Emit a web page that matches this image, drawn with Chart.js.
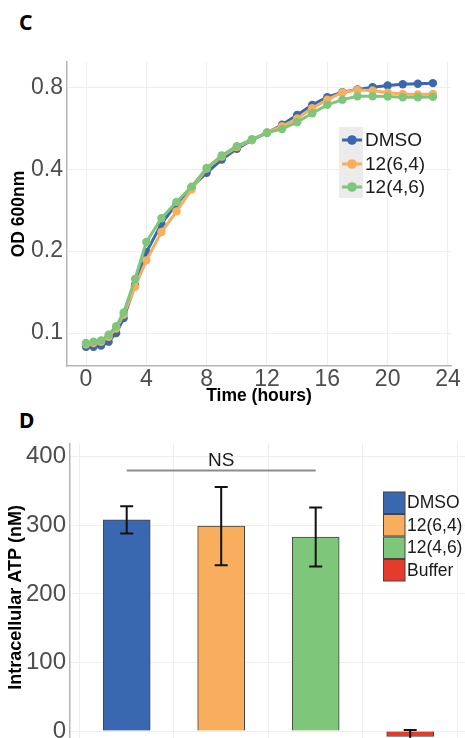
<!DOCTYPE html>
<html>
<head>
<meta charset="utf-8">
<script src="https://cdn.jsdelivr.net/npm/chart.js@4.4.1/dist/chart.umd.min.js"></script>
<style>
  html, body { margin: 0; padding: 0; background: #fff; width: 465px; height: 738px; overflow: hidden; }
  .panel { position: absolute; font-family: "Noto Sans", "Liberation Sans", sans-serif; font-weight: bold; font-size: 21px; color: #000; }
  #wrapC { position: absolute; left: 0; top: 2px; width: 465px; height: 410px; }
  #wrapD { position: absolute; left: 0; top: 400px; width: 465px; height: 370px; }
</style>
</head>
<body>
<div class="panel" style="left:19px; top:8px;">C</div>
<div class="panel" style="left:19px; top:406px;">D</div>
<div id="wrapC"><canvas id="growth" width="465" height="410"></canvas></div>
<div id="wrapD"><canvas id="atp" width="465" height="370"></canvas></div>

<script>
// ---- data: panel C (growth curves, OD 600nm) ----
const hours = [0, 0.5, 1, 1.5, 2, 2.5, 3.25, 4, 5, 6, 7, 8, 9, 10, 11, 12, 13, 14, 15, 16, 17, 18, 19, 20, 21, 22, 23];
const odDMSO = [0.089, 0.089, 0.090, 0.093, 0.100, 0.1135, 0.150, 0.198, 0.252, 0.298, 0.343, 0.388, 0.434, 0.475, 0.512, 0.544, 0.582, 0.633, 0.689, 0.735, 0.767, 0.785, 0.800, 0.812, 0.820, 0.824, 0.828];
const od64 = [0.091, 0.092, 0.093, 0.097, 0.104, 0.117, 0.148, 0.185, 0.235, 0.280, 0.337, 0.402, 0.445, 0.482, 0.512, 0.546, 0.575, 0.614, 0.670, 0.720, 0.765, 0.782, 0.778, 0.763, 0.755, 0.752, 0.755];
const od46 = [0.092, 0.093, 0.094, 0.0986, 0.106, 0.119, 0.158, 0.216, 0.264, 0.303, 0.345, 0.404, 0.449, 0.486, 0.515, 0.544, 0.562, 0.595, 0.642, 0.689, 0.720, 0.741, 0.741, 0.740, 0.735, 0.735, 0.737];
const hourTicks = [0, 4, 8, 12, 16, 20, 24];
const odTicks = [0.1, 0.2, 0.4, 0.8];

// ---- data: panel D (intracellular ATP) ----
const groups = ["DMSO", "12(6,4)", "12(4,6)", "Buffer"];
const atpMean = [308, 299, 283, -8];
const atpErr = [20, 57, 43, 9.5];
const atpTicks = [0, 100, 200, 300, 400];

const colors = ["#3a68b0", "#f8ae5c", "#7dc67a", "#e53b2c"];
const tickFont = { family: "Liberation Sans, Arial, sans-serif", size: 23 };
const titleFont = { family: "Liberation Sans, Arial, sans-serif", size: 17.5, weight: "bold" };
const gridColor = "#eeeeee";
const axisColor = "#b5b5b5";

// legend inside panel C
const legendC = {
  id: "legendC",
  afterDraw(chart) {
    const ctx = chart.ctx;
    ctx.save();
    ctx.fillStyle = "#ececec";
    ctx.fillRect(339, 125, 24, 71);
    const rows = [138, 162, 185];
    chart.data.datasets.forEach((ds, i) => {
      const y = rows[i];
      ctx.strokeStyle = ds.borderColor;
      ctx.lineWidth = 3;
      ctx.beginPath(); ctx.moveTo(342, y); ctx.lineTo(362, y); ctx.stroke();
      ctx.fillStyle = ds.borderColor;
      ctx.beginPath(); ctx.arc(352, y, 4.8, 0, Math.PI * 2); ctx.fill();
      ctx.fillStyle = "#1a1a1a";
      ctx.font = "19px Liberation Sans, Arial, sans-serif";
      ctx.textBaseline = "middle";
      ctx.fillText(ds.label, 365, y + 1);
    });
    ctx.restore();
  }
};

new Chart(document.getElementById("growth"), {
  type: "line",
  data: {
    datasets: [
      { label: groups[0], data: hours.map((h, i) => ({ x: h, y: odDMSO[i] })), borderColor: colors[0], backgroundColor: colors[0], order: 3 },
      { label: groups[1], data: hours.map((h, i) => ({ x: h, y: od64[i] })), borderColor: colors[1], backgroundColor: colors[1], order: 2 },
      { label: groups[2], data: hours.map((h, i) => ({ x: h, y: od46[i] })), borderColor: colors[2], backgroundColor: colors[2], order: 1 },
    ],
  },
  options: {
    responsive: false,
    animation: false,
    layout: { padding: { top: 60, right: 14, left: 0, bottom: 0 } },
    elements: {
      line: { borderWidth: 3, tension: 0 },
      point: { radius: 4.2, borderWidth: 0 },
    },
    plugins: { legend: { display: false }, tooltip: { enabled: false } },
    scales: {
      x: {
        type: "linear",
        min: -1.26,
        max: 24.2,
        afterBuildTicks: (s) => { s.ticks = hourTicks.map((v) => ({ value: v })); },
        afterFit: (s) => { s.height = 46; },
        grid: { color: gridColor, drawTicks: false },
        border: { color: axisColor, width: 1.5 },
        ticks: { font: tickFont, color: "#4d4d4d", padding: 0, maxRotation: 0 },
        title: { display: true, text: "Time (hours)", font: titleFont, color: "#000", padding: { top: 0, bottom: 5.5 } },
      },
      y: {
        type: "logarithmic",
        min: 0.0757,
        max: 0.99,
        afterBuildTicks: (s) => { s.ticks = odTicks.map((v) => ({ value: v })); },
        afterFit: (s) => { s.width = 67; },
        grid: { color: gridColor, drawTicks: false },
        border: { color: axisColor, width: 1.5 },
        ticks: { font: tickFont, color: "#4d4d4d", padding: 4, callback: (v) => String(v) },
        title: { display: true, text: "OD 600nm", font: titleFont, color: "#000", padding: { top: 8.5, bottom: 0 } },
      },
    },
  },
  plugins: [legendC],
});

// error bars, NS bracket and legend for panel D
const atpExtras = {
  id: "atpExtras",
  afterDatasetsDraw(chart) {
    const ctx = chart.ctx;
    const xs = chart.scales.x, ys = chart.scales.y;
    ctx.save();
    ctx.strokeStyle = "#111";
    ctx.lineWidth = 2;
    atpMean.forEach((m, i) => {
      const x = xs.getPixelForValue(i + 1);
      const top = ys.getPixelForValue(m + atpErr[i]);
      const bot = ys.getPixelForValue(m - atpErr[i]);
      ctx.beginPath();
      ctx.moveTo(x, top); ctx.lineTo(x, bot);
      ctx.moveTo(x - 6.5, top); ctx.lineTo(x + 6.5, top);
      ctx.moveTo(x - 6.5, bot); ctx.lineTo(x + 6.5, bot);
      ctx.stroke();
    });
    // NS bracket between DMSO and 12(4,6)
    const yLine = ys.getPixelForValue(380);
    ctx.strokeStyle = "#8c8c8c";
    ctx.beginPath();
    ctx.moveTo(xs.getPixelForValue(1), yLine);
    ctx.lineTo(xs.getPixelForValue(3), yLine);
    ctx.stroke();
    ctx.fillStyle = "#1a1a1a";
    ctx.font = "19px Liberation Sans, Arial, sans-serif";
    ctx.textAlign = "center";
    ctx.textBaseline = "middle";
    ctx.fillText("NS", xs.getPixelForValue(2), ys.getPixelForValue(394));
    // legend
    ctx.textAlign = "left";
    ctx.font = "17.5px Liberation Sans, Arial, sans-serif";
    groups.forEach((g, i) => {
      const y = 92 + i * 22.5;
      ctx.fillStyle = colors[i];
      ctx.fillRect(383.5, y, 21.5, 21.5);
      ctx.strokeStyle = "#444";
      ctx.lineWidth = 1;
      ctx.strokeRect(383.5, y, 21.5, 21.5);
      ctx.fillStyle = "#1a1a1a";
      ctx.fillText(g, 407, y + 11.5);
    });
    ctx.restore();
  }
};

new Chart(document.getElementById("atp"), {
  type: "bar",
  data: {
    datasets: [{
      label: "ATP",
      data: atpMean.map((m, i) => ({ x: i + 1, y: m })),
      backgroundColor: colors,
      borderColor: "#444",
      borderWidth: 1,
      barThickness: 47,
    }],
  },
  options: {
    responsive: false,
    animation: false,
    layout: { padding: { top: 43.3, right: 0, left: 0, bottom: 0 } },
    plugins: { legend: { display: false }, tooltip: { enabled: false } },
    scales: {
      x: {
        type: "linear",
        min: 0.4,
        max: 4.58,
        offset: false,
        afterBuildTicks: (s) => { s.ticks = groups.map((g, i) => ({ value: i + 1 })); },
        afterFit: (s) => { s.height = 11.3; },
        grid: { color: gridColor, drawTicks: false },
        border: { color: axisColor, width: 1.5 },
        ticks: { display: false },
      },
      y: {
        min: -30,
        max: 419.7,
        afterBuildTicks: (s) => { s.ticks = atpTicks.map((v) => ({ value: v })); },
        afterFit: (s) => { s.width = 70; },
        grid: { color: gridColor, drawTicks: false },
        border: { color: axisColor, width: 1.5 },
        ticks: { font: { family: "Liberation Sans, Arial, sans-serif", size: 24 }, color: "#4d4d4d", padding: 4 },
        title: { display: true, text: "Intracellular ATP (nM)", font: { family: "Liberation Sans, Arial, sans-serif", size: 18, weight: "bold" }, color: "#000", padding: { top: 5, bottom: 0 } },
      },
    },
  },
  plugins: [atpExtras],
});
</script>
</body>
</html>
